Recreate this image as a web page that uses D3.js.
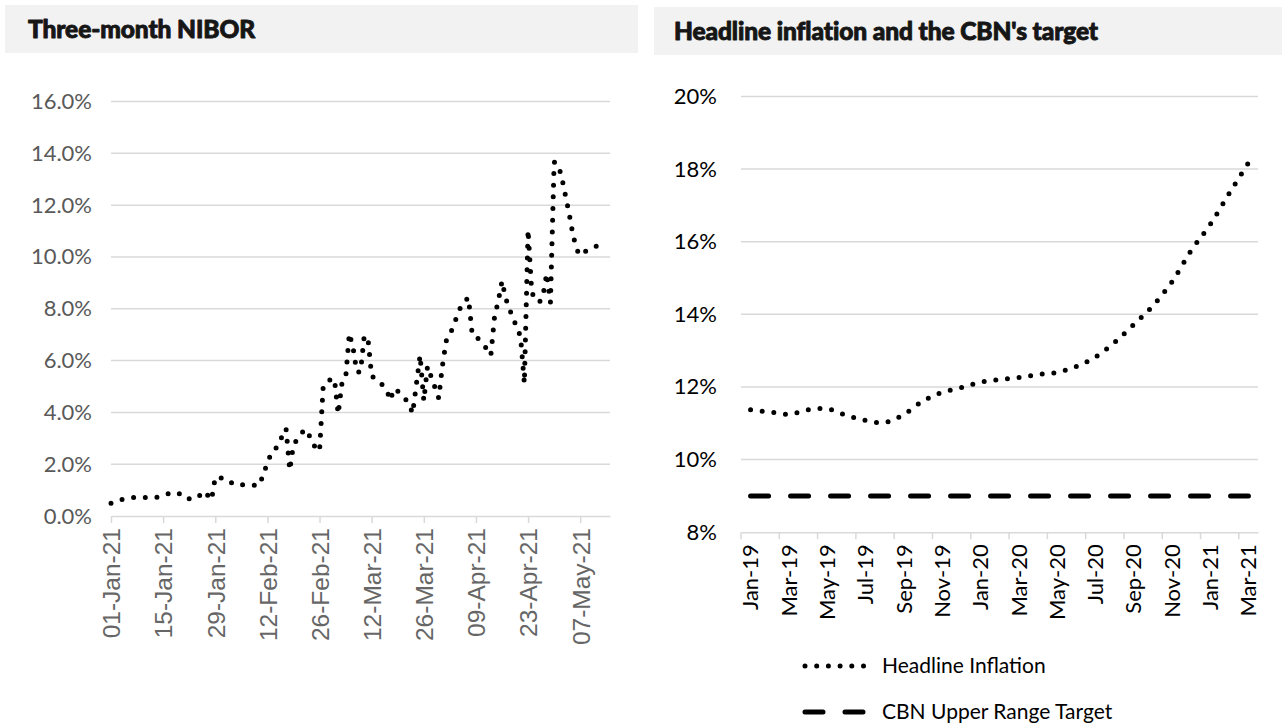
<!DOCTYPE html>
<html>
<head>
<meta charset="utf-8">
<script src="https://cdn.jsdelivr.net/npm/d3@7"></script>
<style>
  body { margin: 0; background: #ffffff; }
  svg { display: block; }
</style>
</head>
<body>
<svg id="chart" width="1282" height="728"></svg>
<script>
// ---- Three-month NIBOR (daily, %) ----
const niborDates = [
  "2021-01-01","2021-01-04","2021-01-07","2021-01-13","2021-01-16","2021-01-19","2021-01-21","2021-01-24",
  "2021-01-26","2021-01-28","2021-01-29","2021-02-01","2021-02-03","2021-02-09","2021-02-10","2021-02-11",
  "2021-02-12","2021-02-13","2021-02-15","2021-02-16","2021-02-17","2021-02-18","2021-02-19","2021-02-22",
  "2021-02-23","2021-02-24","2021-02-26","2021-02-27","2021-03-01","2021-03-02","2021-03-03","2021-03-04",
  "2021-03-05","2021-03-06","2021-03-07","2021-03-08","2021-03-09","2021-03-10","2021-03-11","2021-03-12",
  "2021-03-14","2021-03-16","2021-03-17","2021-03-18","2021-03-20","2021-03-22","2021-03-23","2021-03-25",
  "2021-03-26","2021-03-27","2021-03-30","2021-03-31","2021-04-01","2021-04-02","2021-04-03","2021-04-04",
  "2021-04-05","2021-04-06","2021-04-07","2021-04-08","2021-04-09","2021-04-11","2021-04-12","2021-04-13",
  "2021-04-14","2021-04-15","2021-04-16","2021-04-17","2021-04-18","2021-04-19","2021-04-20","2021-04-21",
  "2021-04-22","2021-04-23","2021-04-24","2021-04-26","2021-04-27","2021-04-28","2021-04-29","2021-04-30",
  "2021-05-01","2021-05-02","2021-05-03","2021-05-04","2021-05-05","2021-05-06","2021-05-07","2021-05-09",
  "2021-05-12"
];
const niborValues = [
  0.49, 0.64, 0.71, 0.71, 0.85, 0.90, 0.66, 0.68,
  0.96, 0.62, 1.50, 1.43, 1.21, 1.19, 1.20, 1.70,
  2.00, 2.45, 2.72, 3.11, 3.38, 1.77, 2.75, 3.35,
  3.21, 2.80, 2.50, 5.05, 5.28, 5.30, 3.94, 5.10,
  5.30, 7.05, 6.50, 5.56, 5.56, 6.95, 6.85, 5.40,
  5.20, 4.88, 4.47, 4.92, 4.71, 4.34, 3.96, 6.20,
  4.45, 5.78, 4.55, 5.80, 6.75, 7.00, 7.36, 7.75,
  8.10, 8.30, 8.43, 7.00, 6.95, 6.60, 6.45, 6.20,
  7.70, 8.30, 9.07, 8.40, 8.00, 7.60, 7.30, 6.90,
  5.12, 11.05, 8.60, 8.24, 8.50, 9.36, 8.24, 13.66,
  13.60, 13.10, 12.40, 11.70, 10.90, 10.30, 10.06, 10.28,
  10.45
];
const niborTickLabels = ["01-Jan-21","15-Jan-21","29-Jan-21","12-Feb-21","26-Feb-21",
                         "12-Mar-21","26-Mar-21","09-Apr-21","23-Apr-21","07-May-21"];
const niborYTicks = [0, 2, 4, 6, 8, 10, 12, 14, 16];

// ---- Headline inflation vs CBN upper target (monthly, %) ----
const months = ["Jan-19","Feb-19","Mar-19","Apr-19","May-19","Jun-19","Jul-19","Aug-19","Sep-19",
                "Oct-19","Nov-19","Dec-19","Jan-20","Feb-20","Mar-20","Apr-20","May-20","Jun-20",
                "Jul-20","Aug-20","Sep-20","Oct-20","Nov-20","Dec-20","Jan-21","Feb-21","Mar-21"];
const headlineInflation = [11.37, 11.31, 11.25, 11.37, 11.40, 11.22, 11.08, 11.02, 11.24,
                           11.61, 11.85, 11.98, 12.13, 12.20, 12.26, 12.34, 12.40, 12.56,
                           12.82, 13.22, 13.71, 14.23, 14.89, 15.75, 16.47, 17.33, 18.17];
const cbnUpperTarget = [9, 9, 9, 9, 9, 9, 9, 9, 9, 9, 9, 9, 9, 9, 9, 9, 9, 9, 9, 9, 9, 9, 9, 9, 9, 9, 9];
const inflYTicks = [8, 10, 12, 14, 16, 18, 20];
const legendLabels = ["Headline Inflation", "CBN Upper Range Target"];

const titles = ["Three-month NIBOR", "Headline inflation and the CBN's target"];

const svg = d3.select("#chart");
const GRID = "#d9d9d9";
const DOT = "0 11.7";
const DASH = "18 22";
const TITLE_FONT = "'Lato Black', 'Lato Heavy', Lato, sans-serif";

// ---------- title bars ----------
svg.append("rect").attr("x", 5).attr("y", 5).attr("width", 633).attr("height", 48).attr("fill", "#f2f2f2");
svg.append("rect").attr("x", 654).attr("y", 7).attr("width", 628).attr("height", 48).attr("fill", "#f2f2f2");
[[28, 38, titles[0]], [674, 40, titles[1]]].forEach(([x, y, t]) => {
  svg.append("text").attr("x", x).attr("y", y).text(t)
    .attr("font-family", TITLE_FONT).attr("font-weight", 900).attr("font-size", 24.5)
    .attr("letter-spacing", -0.1).attr("fill", "#161616")
    .attr("stroke", "#161616").attr("stroke-width", 0.9).attr("stroke-linejoin", "round");
});

// ---------- left: NIBOR ----------
const parseISO = d3.timeParse("%Y-%m-%d");
const parseTick = d3.timeParse("%d-%b-%y");
const xL = d3.scaleTime()
  .domain([new Date(2021, 0, 1), new Date(2021, 4, 15)])
  .range([111, 610]);
const yL = d3.scaleLinear().domain([0, 16]).range([516, 101.5]);

const gL = svg.append("g");
gL.append("g").selectAll("line").data(niborYTicks.filter(d => d > 0)).join("line")
  .attr("x1", xL.range()[0]).attr("x2", xL.range()[1])
  .attr("y1", d => yL(d)).attr("y2", d => yL(d))
  .attr("stroke", GRID).attr("stroke-width", 1.5);

const yAxisL = d3.axisLeft(yL).tickValues(niborYTicks).tickSize(0).tickPadding(0)
  .tickFormat(d => d3.format(".1f")(d) + "%");
gL.append("g").attr("transform", "translate(92,0)").call(yAxisL)
  .call(g => g.select(".domain").remove())
  .selectAll("text").attr("font-family", "Lato").attr("font-size", 22).attr("fill", "#595959");

const xAxisL = d3.axisBottom(xL)
  .tickValues(niborTickLabels.map(parseTick))
  .tickFormat(d3.timeFormat("%d-%b-%y"))
  .tickSizeInner(7).tickSizeOuter(0);
gL.append("g").attr("transform", `translate(0,${yL(0)})`).call(xAxisL)
  .call(g => g.select(".domain").attr("stroke", GRID).attr("stroke-width", 1.5))
  .call(g => g.selectAll(".tick line").attr("stroke", GRID).attr("stroke-width", 1.5))
  .selectAll("text")
  .attr("transform", "rotate(-90)")
  .attr("x", -12).attr("y", 0).attr("dy", "0.36em")
  .style("text-anchor", "end")
  .attr("font-family", "Liberation Sans").attr("font-size", 24.5).attr("fill", "#666666");

const niborSeries = niborDates.map((d, i) => ({ date: parseISO(d), value: niborValues[i] }));
gL.append("path").datum(niborSeries)
  .attr("d", d3.line().x(d => xL(d.date)).y(d => yL(d.value)))
  .attr("fill", "none").attr("stroke", "#000").attr("stroke-width", 5)
  .attr("stroke-linecap", "round").attr("stroke-linejoin", "round")
  .attr("stroke-dasharray", DOT);

// ---------- right: inflation ----------
const xR = d3.scaleBand().domain(months).range([741, 1258]).padding(0);
const yR = d3.scaleLinear().domain([8, 20]).range([532.2, 96.4]);
const cx = m => xR(m) + xR.bandwidth() / 2;

const gR = svg.append("g");
gR.append("g").selectAll("line").data(inflYTicks.filter(d => d > 8)).join("line")
  .attr("x1", xR.range()[0]).attr("x2", xR.range()[1])
  .attr("y1", d => yR(d)).attr("y2", d => yR(d))
  .attr("stroke", GRID).attr("stroke-width", 1.5);

const yAxisR = d3.axisLeft(yR).tickValues(inflYTicks).tickSize(0).tickPadding(0)
  .tickFormat(d => d + "%");
gR.append("g").attr("transform", "translate(717,0)").call(yAxisR)
  .call(g => g.select(".domain").remove())
  .selectAll("text").attr("font-family", "Lato").attr("font-size", 22).attr("fill", "#000");

// category axis: ticks sit between categories, labels on every other month
const labelMonths = months.filter((m, i) => i % 2 === 0);
const xAxisR = d3.axisBottom(xR).tickValues(labelMonths).tickSize(0).tickSizeOuter(0);
const axR = gR.append("g").attr("transform", `translate(0,${yR(8)})`).call(xAxisR);
axR.select(".domain").attr("stroke", GRID).attr("stroke-width", 1.5);
axR.selectAll("text")
  .attr("transform", "rotate(-90)")
  .attr("x", -12).attr("y", 0).attr("dy", "0.36em")
  .style("text-anchor", "end")
  .attr("font-family", "Lato").attr("font-size", 22).attr("fill", "#000");
axR.selectAll(".tickmark").data(labelMonths).join("line").attr("class", "tickmark")
  .attr("x1", d => xR(d)).attr("x2", d => xR(d))
  .attr("y1", 0).attr("y2", 7)
  .attr("stroke", GRID).attr("stroke-width", 1.5);

gR.append("path").datum(months.map((m, i) => ({ m, v: cbnUpperTarget[i] })))
  .attr("d", d3.line().x(d => cx(d.m)).y(d => yR(d.v)))
  .attr("fill", "none").attr("stroke", "#000").attr("stroke-width", 5)
  .attr("stroke-linecap", "round").attr("stroke-dasharray", DASH);

gR.append("path").datum(months.map((m, i) => ({ m, v: headlineInflation[i] })))
  .attr("d", d3.line().curve(d3.curveCatmullRom).x(d => cx(d.m)).y(d => yR(d.v)))
  .attr("fill", "none").attr("stroke", "#000").attr("stroke-width", 5)
  .attr("stroke-linecap", "round").attr("stroke-dasharray", DOT);

// legend
const legend = gR.append("g").attr("transform", "translate(805,0)");
const legendRows = [
  { label: legendLabels[0], y: 666, dash: DOT },
  { label: legendLabels[1], y: 712, dash: DASH }
];
legendRows.forEach(r => {
  legend.append("line").attr("x1", 0).attr("x2", 60).attr("y1", r.y).attr("y2", r.y)
    .attr("stroke", "#000").attr("stroke-width", 5).attr("stroke-linecap", "round")
    .attr("stroke-dasharray", r.dash);
  legend.append("text").attr("x", 77).attr("y", r.y).attr("dy", "0.35em").text(r.label)
    .attr("font-family", "Lato").attr("font-size", 21).attr("fill", "#000");
});
</script>
</body>
</html>
